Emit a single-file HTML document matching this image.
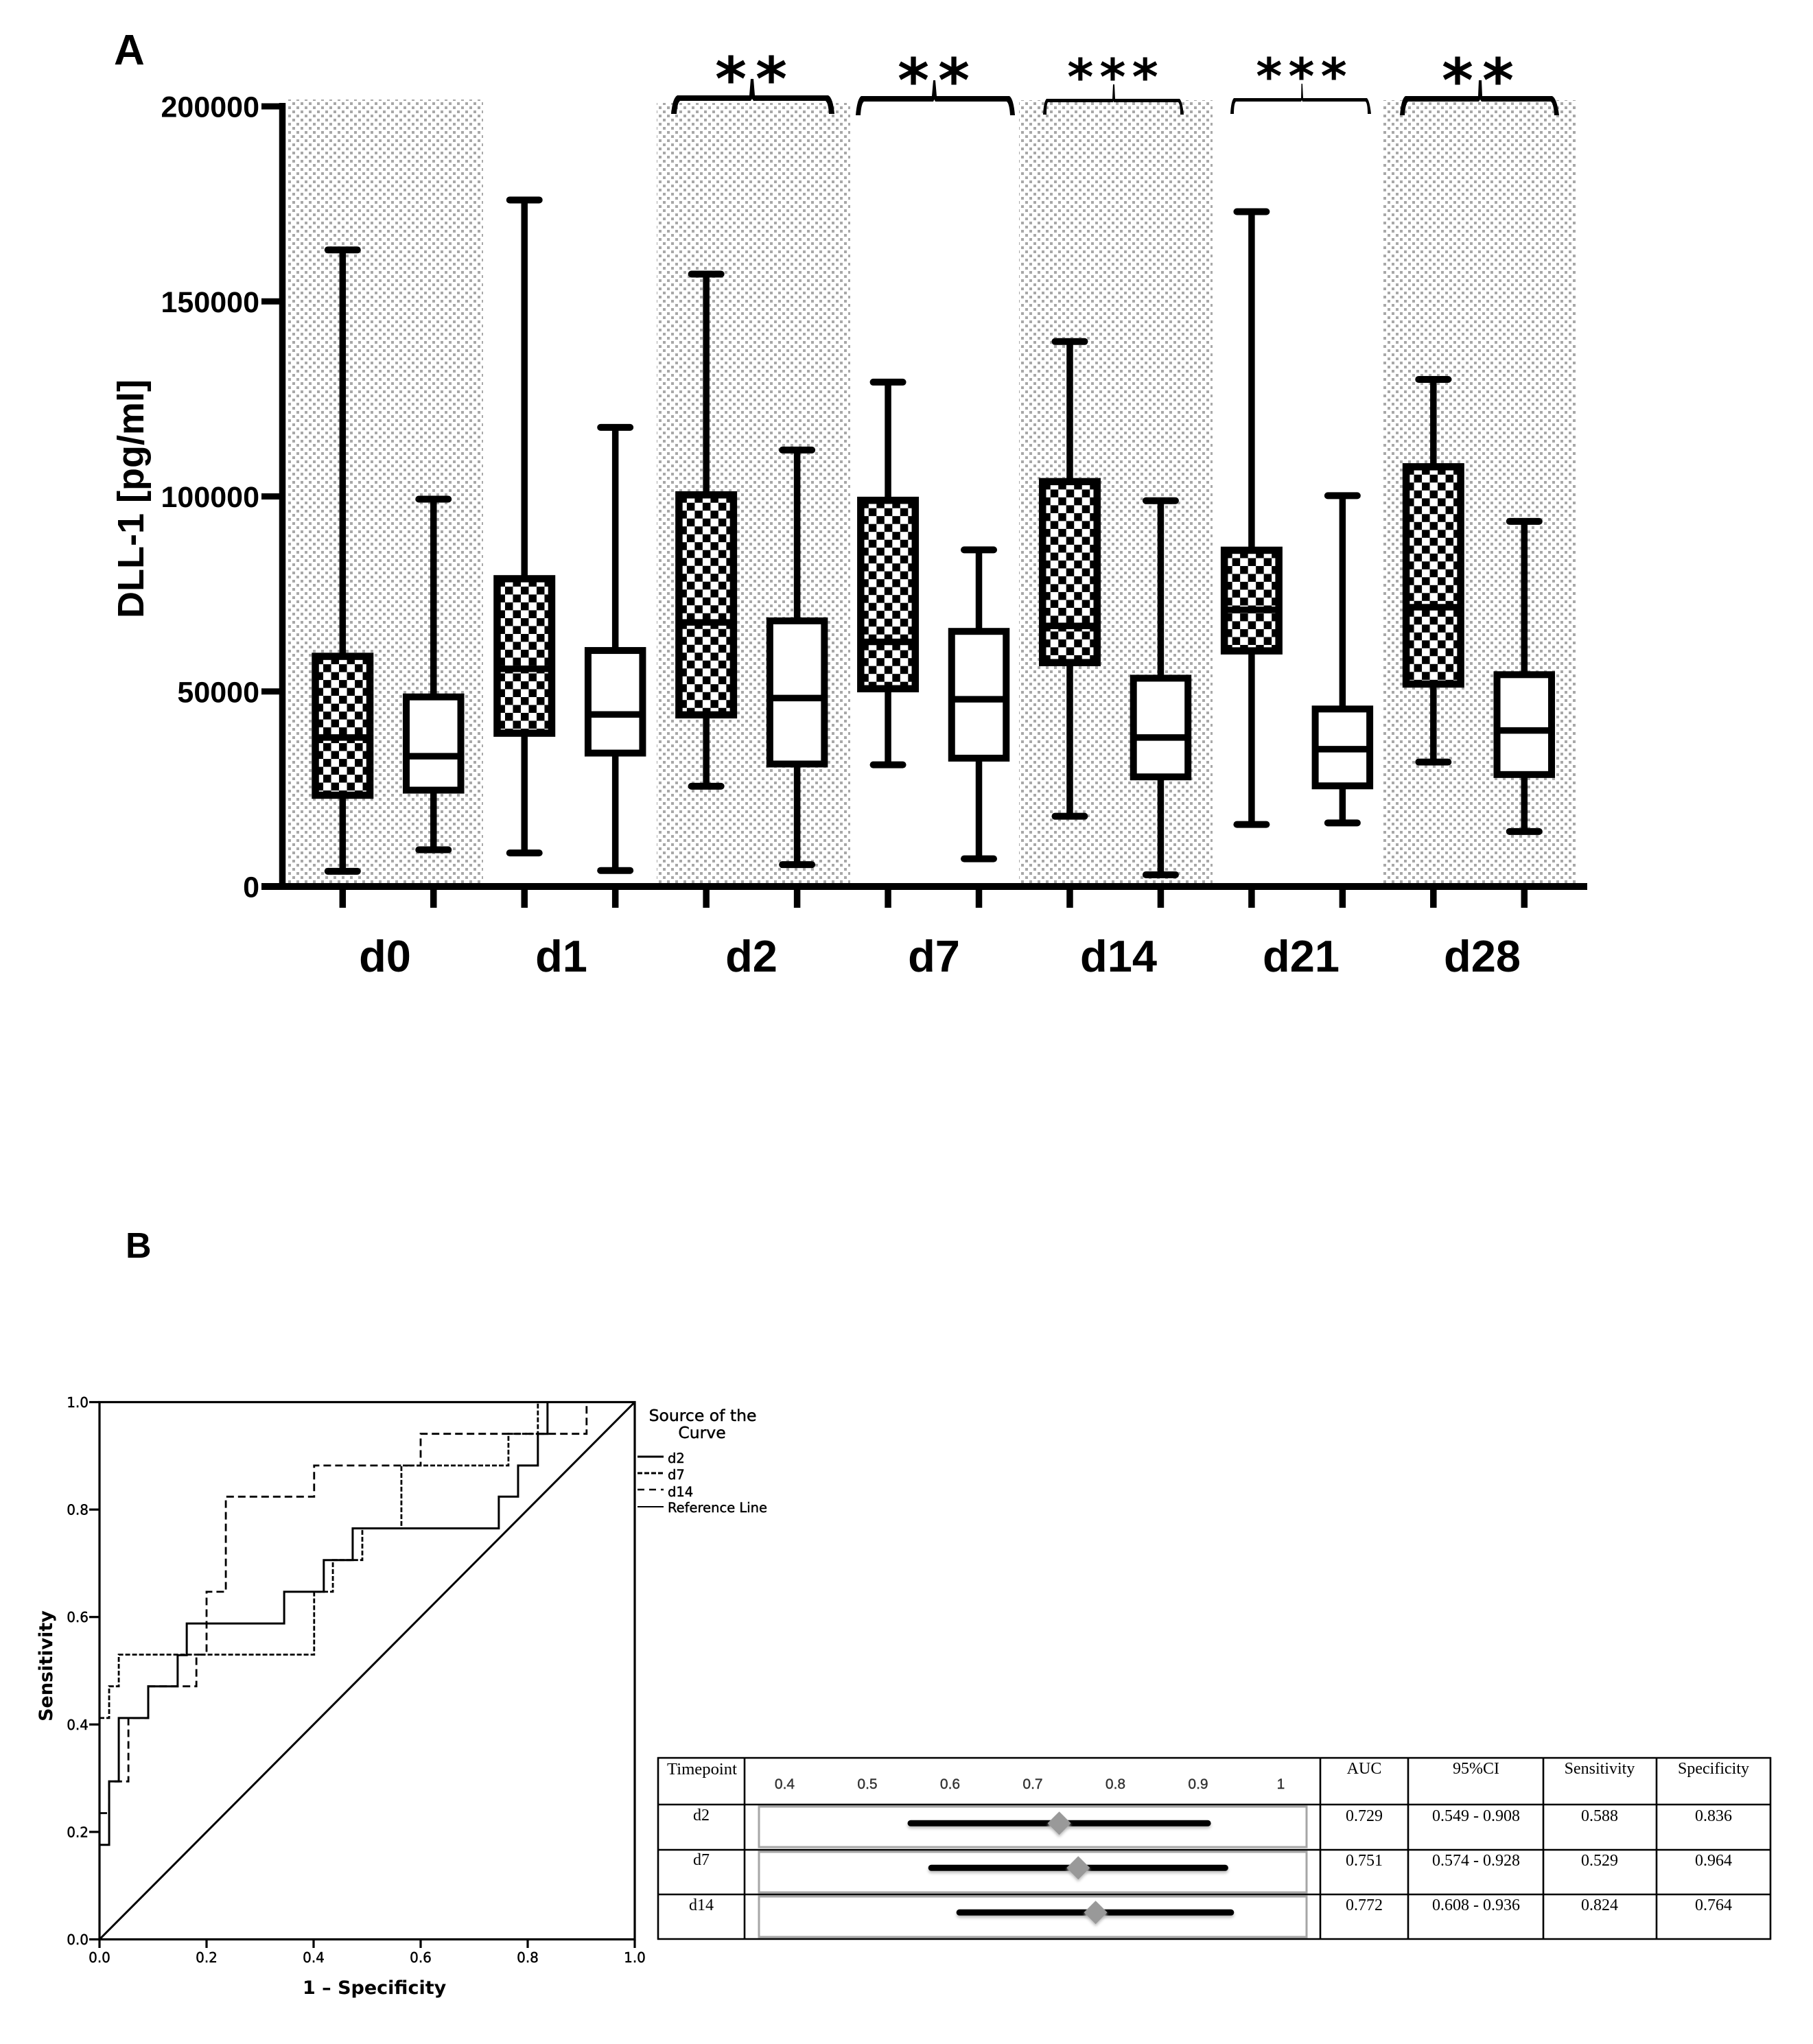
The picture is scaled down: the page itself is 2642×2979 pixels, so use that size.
<!DOCTYPE html>
<html lang="en">
<head>
<meta charset="utf-8">
<title>DLL-1 boxplots and ROC analysis</title>
<style>
html,body{margin:0;padding:0;background:#fff;}
svg{display:block;}
.sans{font-family:"Liberation Sans",sans-serif;}
.dv{font-family:"DejaVu Sans",sans-serif;}
.heavy{stroke:#000;stroke-width:0.45;}
.serif{font-family:"Liberation Serif",serif;font-size:24px;fill:#000;text-anchor:middle;}
.grid{stroke:#000;stroke-width:2.6;fill:none;}
.frame{fill:#fff;stroke:#a6a6a6;stroke-width:3;}
</style>
</head>
<body>
<svg id="figure" xmlns="http://www.w3.org/2000/svg" width="2642" height="2979" viewBox="0 0 2642 2979">
  <defs>
    <pattern id="dots" patternUnits="userSpaceOnUse" x="420" y="1283" width="12" height="12">
      <rect x="0" y="0" width="4" height="4" fill="#a8a8a8"/>
      <rect x="6" y="6" width="4" height="4" fill="#a8a8a8"/>
    </pattern>
    <pattern id="checker" patternUnits="userSpaceOnUse" x="0" y="0" width="23" height="23">
      <rect x="0" y="0" width="23" height="23" fill="#fff"/>
      <rect x="0" y="0" width="11.5" height="11.5" fill="#000"/>
      <rect x="11.5" y="11.5" width="11.5" height="11.5" fill="#000"/>
    </pattern>
  </defs>
  <rect x="0" y="0" width="2642" height="2979" fill="#fff"/>

  <text class="sans" x="166" y="94" font-size="62" font-weight="700">A</text>
  <text class="sans" x="183" y="1833" font-size="52" font-weight="700">B</text>

  <g>
    <rect x="419" y="145" width="285" height="1142" fill="url(#dots)"/>
    <rect x="957" y="150" width="282" height="1137" fill="url(#dots)"/>
    <rect x="1485" y="146" width="282" height="1141" fill="url(#dots)"/>
    <rect x="2014" y="146" width="283" height="1141" fill="url(#dots)"/>
  </g>

  <g id="panel-a-axes"></g>
  <g id="panel-a-boxes"></g>

  <text class="sans" transform="translate(209,727) rotate(-90)" text-anchor="middle" font-size="54" font-weight="700">DLL-1 [pg/ml]</text>

  <g class="sans" font-size="65" font-weight="700" text-anchor="middle">
    <text x="561" y="1416">d0</text>
    <text x="818" y="1416">d1</text>
    <text x="1095" y="1416">d2</text>
    <text x="1361" y="1416">d7</text>
    <text x="1630" y="1416">d14</text>
    <text x="1896" y="1416">d21</text>
    <text x="2160" y="1416">d28</text>
  </g>

  <g fill="#000">
    <path d="M978 166 Q980 143 987 139 L1092 139 L1094 115 L1098 115 L1100 139 L1207 139 Q1214 143 1216 166 L1208 166 Q1207 150 1203 147 L1098 147 L1096 144 L1094 147 L991 147 Q987 150 986 166 Z"/>
    <path d="M1247 168 Q1249 144 1255 140 L1358 140 L1360 117 L1363 117 L1365 140 L1471 140 Q1477 144 1479 168 L1472 168 Q1471 151 1467 148 L1363 148 L1361.5 145 L1360 148 L1259 148 Q1255 151 1254 168 Z"/>
    <path d="M1520 167 Q1521 148 1525 144 L1621 144 L1622 123 L1624 123 L1625 144 L1719 144 Q1723 148 1725 167 L1720 167 Q1720 152 1717 149 L1623 149 L1622.5 147 L1622 149 L1527 149 Q1525 152 1525 167 Z"/>
    <path d="M1793 166 Q1794 147 1798 143 L1896 143 L1896.5 122 L1898 122 L1899 143 L1992 143 Q1996 147 1998 166 L1993 166 Q1993 151 1990 148 L1898 148 L1897 146 L1896 148 L1801 148 Q1798 151 1798 166 Z"/>
    <path d="M2040 168 Q2042 144 2048 140 L2154 140 L2155 117 L2159 117 L2160 140 L2262 140 Q2269 144 2272 168 L2265 168 Q2264 151 2260 148 L2159 148 L2157 145 L2155 148 L2052 148 Q2048 151 2047 168 Z"/>
  </g>
  <g class="dv" text-anchor="middle" fill="#000" font-weight="700">
    <text x="1101" y="146" font-size="88" letter-spacing="13">**</text>
    <text x="1367" y="148" font-size="88" letter-spacing="13">**</text>
    <text x="1626" y="138" font-size="73" letter-spacing="9">***</text>
    <text x="1901" y="137" font-size="73" letter-spacing="9">***</text>
    <text x="2160" y="148" font-size="88" letter-spacing="13">**</text>
  </g>

  <g id="roc-curves"></g>
  <g id="roc-axes"></g>

  <text class="dv" transform="translate(76,2428) rotate(-90)" text-anchor="middle" font-size="27" font-weight="700">Sensitivity</text>
  <text class="dv" x="441" y="2906" font-size="27" font-weight="700">1 – Specificity</text>

  <g class="dv" fill="#000">
    <text class="heavy" x="1024" y="2071" font-size="23.5" text-anchor="middle">Source of the</text>
    <text class="heavy" x="1023" y="2096" font-size="23.5" text-anchor="middle">Curve</text>
    <line x1="929" y1="2123" x2="967" y2="2123" stroke="#000" stroke-width="3"/>
    <text class="heavy" x="973" y="2132" font-size="19.5">d2</text>
    <line x1="929" y1="2147" x2="967" y2="2147" stroke="#000" stroke-width="3" stroke-dasharray="7 3"/>
    <text class="heavy" x="973" y="2156" font-size="19.5">d7</text>
    <line x1="929" y1="2171" x2="967" y2="2171" stroke="#000" stroke-width="2.5" stroke-dasharray="10 7"/>
    <text class="heavy" x="973" y="2181" font-size="19.5">d14</text>
    <line x1="929" y1="2196" x2="967" y2="2196" stroke="#000" stroke-width="2"/>
    <text class="heavy" x="973" y="2204" font-size="19.5">Reference Line</text>
  </g>

  <g>
    <line class="grid" x1="958" y1="2562" x2="2581" y2="2562"/>
    <line class="grid" x1="958" y1="2630" x2="2581" y2="2630"/>
    <line class="grid" x1="958" y1="2696" x2="2581" y2="2696"/>
    <line class="grid" x1="958" y1="2761" x2="2581" y2="2761"/>
    <line class="grid" x1="958" y1="2826" x2="2581" y2="2826"/>
    <line class="grid" x1="959" y1="2561" x2="959" y2="2827"/>
    <line class="grid" x1="1085" y1="2561" x2="1085" y2="2827"/>
    <line class="grid" x1="1924" y1="2561" x2="1924" y2="2827"/>
    <line class="grid" x1="2052" y1="2561" x2="2052" y2="2827"/>
    <line class="grid" x1="2249" y1="2561" x2="2249" y2="2827"/>
    <line class="grid" x1="2414" y1="2561" x2="2414" y2="2827"/>
    <line class="grid" x1="2580" y1="2561" x2="2580" y2="2827"/>
    <rect class="frame" x="1106" y="2633" width="798" height="59"/>
    <rect class="frame" x="1106" y="2699" width="798" height="59"/>
    <rect class="frame" x="1106" y="2764" width="798" height="59"/>

    <text class="serif" x="1023" y="2586" style="font-size:24.7px">Timepoint</text>
    <text class="serif" x="1988" y="2585">AUC</text>
    <text class="serif" x="2151" y="2585">95%CI</text>
    <text class="serif" x="2331" y="2585">Sensitivity</text>
    <text class="serif" x="2497" y="2585">Specificity</text>

    <text class="serif" x="1022" y="2653">d2</text>
    <text class="serif" x="1988" y="2654">0.729</text>
    <text class="serif" x="2151" y="2654">0.549 - 0.908</text>
    <text class="serif" x="2331" y="2654">0.588</text>
    <text class="serif" x="2497" y="2654">0.836</text>

    <text class="serif" x="1022" y="2718">d7</text>
    <text class="serif" x="1988" y="2719">0.751</text>
    <text class="serif" x="2151" y="2719">0.574 - 0.928</text>
    <text class="serif" x="2331" y="2719">0.529</text>
    <text class="serif" x="2497" y="2719">0.964</text>

    <text class="serif" x="1022" y="2784">d14</text>
    <text class="serif" x="1988" y="2784">0.772</text>
    <text class="serif" x="2151" y="2784">0.608 - 0.936</text>
    <text class="serif" x="2331" y="2784">0.824</text>
    <text class="serif" x="2497" y="2784">0.764</text>
  </g>
  <g id="forest-marks"></g>
</svg>

<script>
// Panel A: box plot values (pg/ml), alternating patient / control per timepoint
const boxGroups = ['d0-patient','d0-control','d1-patient','d1-control','d2-patient','d2-control','d7-patient','d7-control','d14-patient','d14-control','d21-patient','d21-control','d28-patient','d28-control'];
const whiskerHigh = [163200,99300,176000,117700,157000,111900,129300,86300,139700,98900,173000,100200,130000,93600];
const q3Values    = [59000,48600,78900,60500,100400,68100,99000,65400,103800,53400,86200,45500,107600,54300];
const medianValues= [38200,33400,55800,44100,67700,48300,62700,48000,66800,38200,70900,35200,71600,40000];
const q1Values    = [23400,24700,39300,34200,44000,31400,50700,32900,57400,28100,60400,25800,51900,28700];
const whiskerLow  = [3900,9400,8600,4100,25700,5600,31200,7100,18000,3000,15900,16300,31900,14100];
const yTickValues = [0,50000,100000,150000,200000];
const yTickLabels = ['0','50000','100000','150000','200000'];

// Panel B: ROC step curves, read as false-positive-rate breakpoints and sensitivity levels
const d2Fpr  = [0,0.018,0.036,0.091,0.146,0.163,0.345,0.419,0.473,0.746,0.782,0.819,0.837];
const d2Sens = [0.176,0.294,0.412,0.471,0.529,0.588,0.647,0.706,0.765,0.824,0.882,0.941,1.0];
const d7Fpr  = [0,0.018,0.036,0.401,0.436,0.491,0.564,0.764,0.819];
const d7Sens = [0.412,0.471,0.53,0.647,0.706,0.765,0.882,0.941,1.0];
const d14Fpr = [0,0.018,0.054,0.091,0.181,0.2,0.236,0.401,0.6,0.91];
const d14Sens= [0.235,0.294,0.412,0.471,0.53,0.647,0.824,0.882,0.941,1.0];
const referenceLine = [0,1];
const rocTicks = [0,0.2,0.4,0.6,0.8,1.0];
const rocTickLabels = ['0.0','0.2','0.4','0.6','0.8','1.0'];

// Table forest plot
const forestTicks = [0.4,0.5,0.6,0.7,0.8,0.9,1];
const forestTickLabels = ['0.4','0.5','0.6','0.7','0.8','0.9','1'];
const forestRows = ['d2','d7','d14'];
const forestLow  = [0.549,0.574,0.608];
const forestMid  = [0.732,0.755,0.776];
const forestHigh = [0.915,0.936,0.943];

const NS = 'http://www.w3.org/2000/svg';
function mk(tag, attrs, parent){
  const n = document.createElementNS(NS, tag);
  for (const k in attrs) n.setAttribute(k, attrs[k]);
  parent.appendChild(n);
  return n;
}
const yA = v => 1292 - v / 200000 * 1137;
const xA = i => 499.3 + 132.46 * i;
const xR = f => 145 + 780 * f;
const yR = s => 2826.5 - 783 * s;
const xF = v => 1143.5 + (v - 0.4) * 1205;
const yF = i => 2657.3 + 65 * i;

// Panel A axes
const axesA = document.getElementById('panel-a-axes');
let el = mk('line', {x1:411.5, y1:yA(200000)-5, x2:411.5, y2:1297, stroke:'#000', 'stroke-width':9.5}, axesA);


el = mk('line', {x1:381, y1:yA(0), x2:2313, y2:yA(0), stroke:'#000', 'stroke-width':10}, axesA);


yTickValues.forEach((v, i) => {
  const t = mk('line', {x1:381, y1:yA(v), x2:408, y2:yA(v), stroke:'#000', 'stroke-width':9}, axesA);
  
  
  const l = mk('text', {x:378, y:yA(v)+15.5, 'font-size':43, 'font-weight':700, 'text-anchor':'end', class:'sans'}, axesA);
  l.textContent = yTickLabels[i];
  
  
});
boxGroups.forEach((g, i) => {
  const t = mk('line', {x1:xA(i), y1:1297, x2:xA(i), y2:1323, stroke:'#000', 'stroke-width':9.5}, axesA);
  
  
});

// Panel A boxes
const boxesA = document.getElementById('panel-a-boxes');
boxGroups.forEach((g, i) => {
  const x = xA(i);
  const group = mk('g', {}, boxesA);
  
  
  const stem = mk('line', {x1:x, y1:yA(whiskerHigh[i]), x2:x, y2:yA(whiskerLow[i]), stroke:'#000', 'stroke-width':9.5}, group);
  
  
  const capHi = mk('line', {x1:x-21.5, y1:yA(whiskerHigh[i]), x2:x+21.5, y2:yA(whiskerHigh[i]), stroke:'#000', 'stroke-width':10, 'stroke-linecap':'round'}, group);
  
  
  const capLo = mk('line', {x1:x-21.5, y1:yA(whiskerLow[i]), x2:x+21.5, y2:yA(whiskerLow[i]), stroke:'#000', 'stroke-width':10, 'stroke-linecap':'round'}, group);
  
  
  const filled = i % 2 === 0;
  const top = yA(q3Values[i]);
  const rect = mk('rect', {x:0, y:0, width:79.5, height:yA(q1Values[i]) - top, transform:'translate(' + (x-39.75) + ',' + top + ')', fill: filled ? 'url(#checker)' : '#fff', stroke:'#000', 'stroke-width': filled ? 10.5 : 10}, group);
  
  
  const med = mk('line', {x1:x-40, y1:yA(medianValues[i]), x2:x+40, y2:yA(medianValues[i]), stroke:'#000', 'stroke-width':9.5}, group);
  
  
});

// ROC curves
function stepPath(fprs, sens){
  let d = 'M' + xR(fprs[0]) + ' ' + yR(sens[0]);
  for (let i = 1; i < fprs.length; i++){
    d += ' H' + xR(fprs[i]) + ' V' + yR(sens[i]);
  }
  return d;
}
const roc = document.getElementById('roc-curves');
el = mk('line', {x1:xR(referenceLine[0]), y1:yR(referenceLine[0]), x2:xR(referenceLine[1]), y2:yR(referenceLine[1]), stroke:'#000', 'stroke-width':3}, roc);


el = mk('path', {d:stepPath(d14Fpr, d14Sens), fill:'none', stroke:'#000', 'stroke-width':2.8, 'stroke-dasharray':'11 6'}, roc);


el = mk('path', {d:stepPath(d7Fpr, d7Sens), fill:'none', stroke:'#000', 'stroke-width':2.8, 'stroke-dasharray':'7 3'}, roc);


el = mk('path', {d:stepPath(d2Fpr, d2Sens), fill:'none', stroke:'#000', 'stroke-width':3}, roc);



// ROC axes
const rocAxes = document.getElementById('roc-axes');
el = mk('rect', {x:xR(0), y:yR(1), width:xR(1)-xR(0), height:yR(0)-yR(1), fill:'none', stroke:'#000', 'stroke-width':3.2}, rocAxes);


rocTicks.forEach((v, i) => {
  const ty = mk('line', {x1:130, y1:yR(v), x2:xR(0), y2:yR(v), stroke:'#000', 'stroke-width':3.2}, rocAxes);
  
  
  const ly = mk('text', {x:129, y:yR(v)+7.5, 'font-size':20, 'text-anchor':'end', class:'dv heavy'}, rocAxes);
  ly.textContent = rocTickLabels[i];
  
  
  const tx = mk('line', {x1:xR(v), y1:yR(0), x2:xR(v), y2:2839, stroke:'#000', 'stroke-width':3.2}, rocAxes);
  
  
  const lx = mk('text', {x:xR(v), y:2860, 'font-size':20, 'text-anchor':'middle', class:'dv heavy'}, rocAxes);
  lx.textContent = rocTickLabels[i];
  
  
});

// Forest plot
const forest = document.getElementById('forest-marks');
forestTicks.forEach((v, i) => {
  const t = mk('text', {x:xF(v), y:2607, 'font-size':21, 'text-anchor':'middle', fill:'#333', stroke:'#333', 'stroke-width':0.4, class:'sans'}, forest);
  t.textContent = forestTickLabels[i];
  
  
});
forestRows.forEach((r, i) => {
  const y = yF(i);
  const ci = mk('line', {x1:xF(forestLow[i])+4, y1:y, x2:xF(forestHigh[i])-4, y2:y, stroke:'#000', 'stroke-width':9, 'stroke-linecap':'round', style:'filter:drop-shadow(0 3px 2px #bbb)'}, forest);
  
  
  const cx = xF(forestMid[i]);
  const dm = mk('path', {d:'M' + (cx-17) + ' ' + y + ' L' + cx + ' ' + (y-17) + ' L' + (cx+17) + ' ' + y + ' L' + cx + ' ' + (y+17) + ' Z', fill:'#999', style:'filter:drop-shadow(0 3px 2px #bbb)'}, forest);
  
  
});
</script>
</body>
</html>
